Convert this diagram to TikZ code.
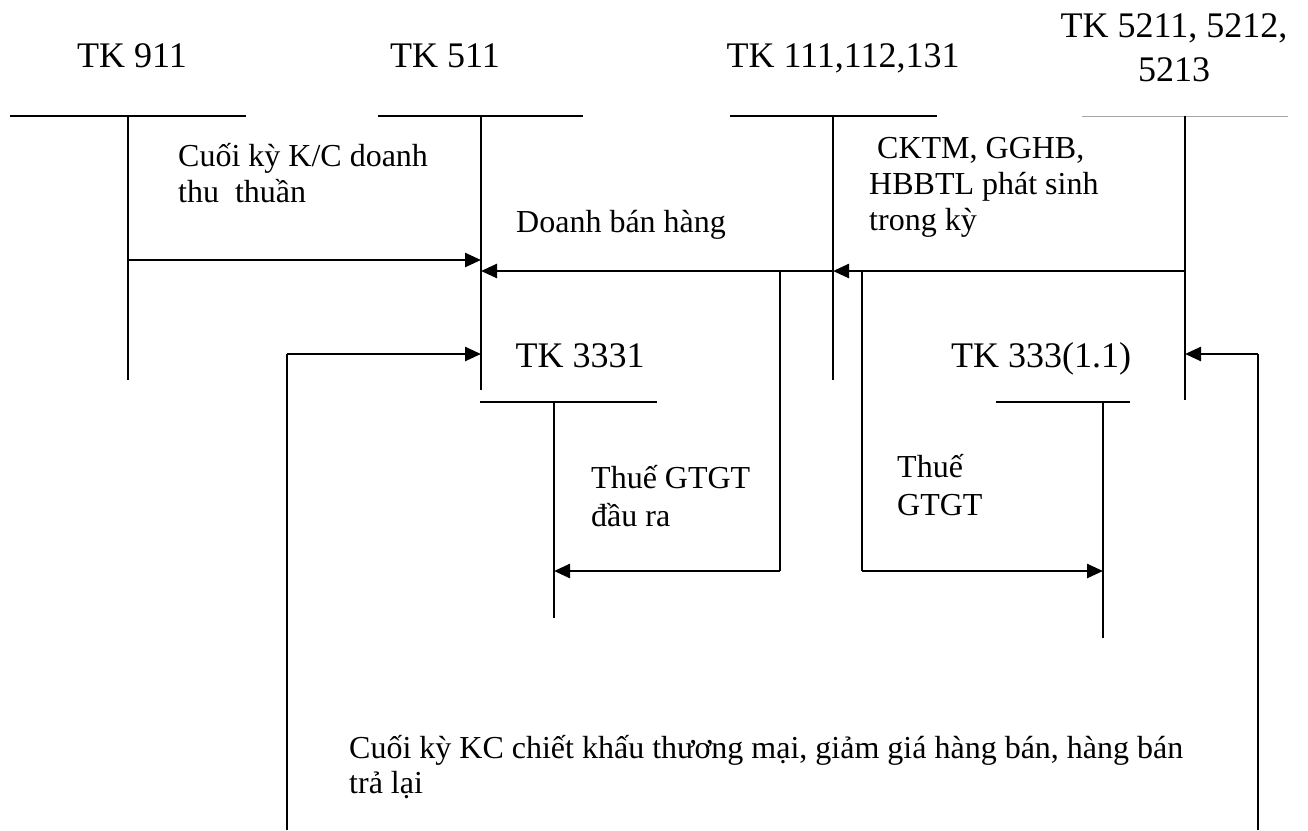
\documentclass[tikz,border=0pt]{standalone}
\usepackage{fontspec}
\setmainfont{Liberation Serif}
\usetikzlibrary{arrows.meta}
\newcommand{\llines}[1]{\vtop{\halign{##\hfil\cr#1\crcr}}}
\newcommand{\clines}[1]{\vtop{\halign{\hfil##\hfil\cr#1\crcr}}}
\begin{document}
\begin{tikzpicture}[x=1pt,y=-1pt,
  title/.style={font=\fontsize{36}{44}\selectfont, inner sep=0pt, anchor=base},
  lbl/.style={font=\fontsize{32}{36}\selectfont, inner sep=0pt, anchor=base west},
  bar/.style={line width=2.5pt},
  stem/.style={line width=1.5pt},
  flow/.style={line width=2.5pt, -{Triangle[length=16pt,width=14pt]}},
  link/.style={line width=2pt},
]
\useasboundingbox (0,0) rectangle (1308,830);

% account titles
\node[title] (t911) at (132,67) {TK 911};
\node[title] (t511) at (445,67) {TK 511};
\node[title] (t111) at (843,67) {TK 111,112,131};
\node[title] (t521) at (1174,37) {\clines{TK 5211, 5212,\cr 5213}};
\node[title] (t3331) at (580,367) {TK 3331};
\node[title] (t333) at (1041,367) {TK 333(1.1)};

% T-account bars
\draw[bar] (10,116) -- (246,116);
\draw[bar] (378,116) -- (583,116);
\draw[bar] (730,116) -- (937,116);
\draw[line width=1pt, gray!70] (1082,116) -- (1288,116);
\draw[bar] (480,402) -- (657,402);
\draw[bar] (996,402) -- (1130,402);

% stems
\coordinate (s911) at (128,116);   \coordinate (e911) at (128,380);
\coordinate (s511) at (481,116);   \coordinate (e511) at (481,390);
\coordinate (s111) at (833,116);   \coordinate (e111) at (833,380);
\coordinate (s521) at (1185,116);  \coordinate (e521) at (1185,400);
\coordinate (s3331) at (554,402);  \coordinate (e3331) at (554,618);
\coordinate (s333) at (1103,402);  \coordinate (e333) at (1103,638);
\draw[stem] (s911) -- (e911);
\draw[stem] (s511) -- (e511);
\draw[stem] (s111) -- (e111);
\draw[stem] (s521) -- (e521);
\draw[stem] (s3331) -- (e3331);
\draw[stem] (s333) -- (e333);

% levels
\coordinate (y260) at (0,260);
\coordinate (y271) at (0,271);
\coordinate (y354) at (0,354);
\coordinate (b1) at (780,271);  \coordinate (b1d) at (780,571);
\coordinate (b2) at (862,271);  \coordinate (b2d) at (862,571);
\coordinate (lb) at (287,830);
\coordinate (rb) at (1258,830);

% flows
\draw[flow] (s911 |- y260) -- (s511 |- y260);
\draw[flow] (s111 |- y271) -- (s511 |- y271);
\draw[flow] (s521 |- y271) -- (s111 |- y271);
\draw[link] (b1) -- (b1d);
\draw[flow] (b1d) -- (s3331 |- b1d);
\draw[link] (b2) -- (b2d);
\draw[flow] (b2d) -- (s333 |- b2d);
\draw[link] (lb) -- (lb |- y354);
\draw[flow] (lb |- y354) -- (s511 |- y354);
\draw[link] (rb) -- (rb |- y354);
\draw[flow] (rb |- y354) -- (s521 |- y354);

% labels
\node[lbl] (l1) at (178,166) {\llines{Cuối kỳ K/C doanh\cr thu\ \ thuần}};
\node[lbl] (l2) at (516,232) {Doanh bán hàng};
\node[lbl] (l3) at (869,158) {\llines{\ CKTM, GGHB,\cr HBBTL phát sinh\cr trong kỳ}};
\node[lbl, font=\fontsize{32}{38}\selectfont] (l4) at (591,488) {\llines{Thuế GTGT\cr đầu ra}};
\node[lbl, font=\fontsize{32}{38}\selectfont] (l5) at (897,477) {\llines{Thuế\cr GTGT}};
\node[lbl, font=\fontsize{32}{35}\selectfont] (l6) at (349,758) {\llines{Cuối kỳ KC chiết khấu thương mại, giảm giá hàng bán, hàng bán\cr trả lại}};
\end{tikzpicture}
\end{document}
